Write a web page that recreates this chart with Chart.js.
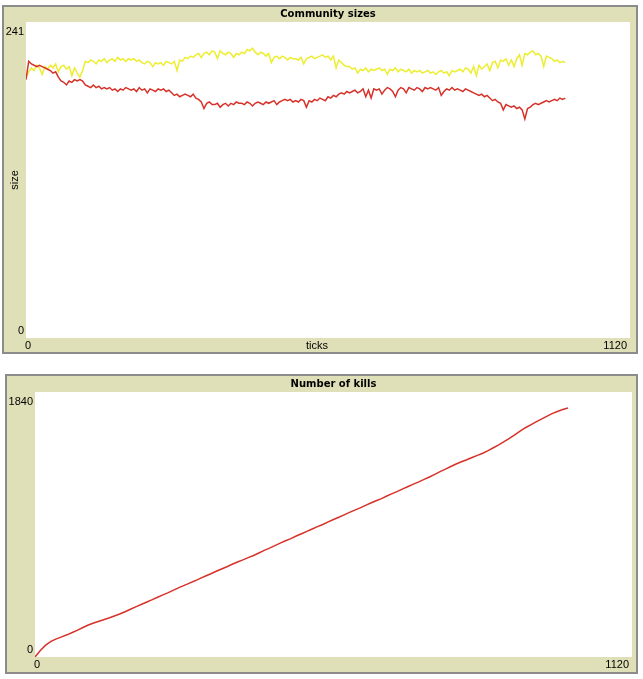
<!DOCTYPE html>
<html>
<head>
<meta charset="utf-8">
<script src="https://cdn.jsdelivr.net/npm/chart.js@4.4.0/dist/chart.umd.min.js"></script>
<style>
  body { margin: 0; background: #ffffff; }
  .plot {
    position: absolute;
    border: 2px solid #8c8c8c;
    background: #e0e0b8;
  }
  .plot canvas { display: block; }
</style>
</head>
<body>
<div class="plot" id="sizesBox" style="left:2px; top:5px;">
  <canvas id="sizesChart" width="632" height="345"></canvas>
</div>
<div class="plot" id="killsBox" style="left:5px; top:374px;">
  <canvas id="killsChart" width="629" height="296"></canvas>
</div>
<script>
// --- 데이터 ---
const sizesTitle = 'Community sizes';
const killsTitle = 'Number of kills';
const tickAxisRange = [0, 1120];
const sizeAxisRange = [0, 241];
const killAxisRange = [0, 1840];

// community sizes, sampled every 5 ticks (0..1000)
const sizeStep = 5;
const redSizes = [
  197, 211, 209, 208, 207, 208, 207, 206, 205, 204,
  202, 203, 199, 196, 195, 193, 196, 195, 197, 196,
  197, 196, 193, 192, 191, 193, 191, 192, 190, 191,
  190, 191, 189, 190, 188, 190, 189, 191, 190, 189,
  190, 188, 191, 189, 190, 187, 190, 189, 188, 190,
  189, 190, 188, 189, 187, 185, 186, 184, 185, 186,
  185, 184, 186, 183, 182, 180, 175, 179, 180, 178,
  178, 179, 176, 178, 179, 177, 179, 178, 180, 179,
  179, 178, 180, 179, 177, 179, 180, 179, 178, 180,
  179, 180, 181, 178, 180, 181, 182, 181, 182, 180,
  181, 180, 182, 181, 176, 181, 180, 182, 181, 183,
  182, 181, 184, 183, 185, 184, 186, 187, 186, 188,
  187, 188, 189, 187, 188, 190, 184, 189, 183, 190,
  189, 190, 186, 189, 191, 190, 188, 184, 189, 191,
  190, 187, 191, 190, 189, 191, 190, 188, 191, 190,
  191, 190, 189, 191, 185, 188, 190, 189, 191, 189,
  190, 189, 188, 190, 189, 188, 187, 186, 185, 186,
  184, 185, 183, 181, 182, 180, 179, 174, 178, 177,
  176, 177, 175, 176, 174, 167, 175, 176, 178, 179,
  178, 179, 180, 181, 180, 181, 182, 181, 183, 182,
  183
];
const yellowSizes = [
  199, 203, 206, 204, 208, 206, 201, 207, 205, 208,
  206, 209, 203, 207, 208, 205, 207, 200, 206, 202,
  199, 204, 211, 210, 212, 211, 209, 212, 211, 213,
  210, 212, 213, 211, 214, 212, 213, 211, 213, 212,
  213, 211, 212, 210, 209, 211, 210, 207, 210, 209,
  210, 208, 211, 210, 209, 211, 204, 212, 211, 214,
  213, 215, 214, 216, 217, 214, 217, 218, 216, 219,
  218, 213, 219, 217, 216, 218, 217, 214, 217, 216,
  218, 217, 220, 219, 221, 218, 216, 218, 217, 215,
  217, 210, 214, 215, 213, 215, 214, 212, 214, 213,
  213, 212, 214, 209, 213, 214, 215, 213, 214, 215,
  216, 214, 215, 212, 215, 206, 212, 210, 208, 207,
  207, 205, 206, 202, 205, 204, 206, 203, 205, 204,
  205, 206, 204, 205, 201, 205, 204, 206, 203, 205,
  204, 203, 205, 202, 204, 203, 204, 202, 203, 204,
  202, 203, 201, 203, 204, 202, 203, 200, 204, 203,
  204, 205, 203, 206, 205, 202, 207, 200, 208, 205,
  207, 209, 204, 210, 211, 206, 212, 211, 213, 208,
  212, 207, 213, 216, 208, 217, 216, 218, 219, 216,
  217, 215, 207, 215, 214, 213, 211, 212, 210, 211,
  210
];

// number of kills, sampled every 10 ticks (0..1000)
const killStep = 10;
const kills = [
  0, 45, 82, 108, 126, 140, 154, 170, 187, 205,
  222, 236, 248, 260, 272, 286, 300, 316, 333, 350,
  366, 382, 398, 415, 431, 447, 464, 482, 497, 513,
  529, 546, 562, 578, 595, 611, 627, 644, 660, 674,
  690, 705, 722, 740, 756, 773, 791, 807, 822, 840,
  856, 872, 889, 905, 920, 938, 955, 970, 987, 1004,
  1020, 1035, 1053, 1069, 1085, 1100, 1118, 1134, 1150, 1167,
  1184, 1200, 1216, 1233, 1250, 1268, 1287, 1305, 1323, 1340,
  1356, 1370, 1385, 1400, 1415, 1433, 1453, 1473, 1495, 1518,
  1543, 1568, 1592, 1612, 1632, 1652, 1671, 1690, 1705, 1718,
  1729
];

const BEIGE = '#e0e0b8';
const RED = 'rgb(215, 50, 41)';
const YELLOW = 'rgb(237, 237, 49)';
const LABEL_FONT = '11px "Liberation Sans", Arial, sans-serif';
const TITLE_FONT = 'bold 10px "DejaVu Sans", sans-serif';

function toPoints(values, step) {
  return values.map((v, i) => ({ x: i * step, y: v }));
}

// NetLogo 스타일 패널: 배경, 제목, 축 끝값 라벨
const netlogoPanel = {
  id: 'netlogoPanel',
  beforeDraw(chart, args, opts) {
    const ctx = chart.ctx;
    const a = chart.chartArea;
    ctx.save();
    ctx.fillStyle = BEIGE;
    ctx.fillRect(0, 0, chart.width, chart.height);
    ctx.fillStyle = '#ffffff';
    ctx.fillRect(a.left, a.top, a.right - a.left, a.bottom - a.top);
    ctx.restore();
  },
  afterDraw(chart, args, opts) {
    const ctx = chart.ctx;
    const a = chart.chartArea;
    const xs = chart.scales.x;
    const ys = chart.scales.y;
    ctx.save();
    ctx.fillStyle = '#000000';

    ctx.font = TITLE_FONT;
    ctx.textAlign = 'center';
    ctx.textBaseline = 'middle';
    ctx.fillText(opts.title, (a.left + a.right) / 2, a.top / 2);

    ctx.font = LABEL_FONT;
    // y axis: max at the top, min at the bottom
    ctx.textAlign = 'right';
    ctx.textBaseline = 'top';
    ctx.fillText(String(opts.yRange[1]), a.left - 2, ys.getPixelForValue(opts.yRange[1]) + 4);
    ctx.textBaseline = 'bottom';
    ctx.fillText(String(opts.yRange[0]), a.left - 2, ys.getPixelForValue(opts.yRange[0]) - 2);

    // x axis
    ctx.textBaseline = 'middle';
    ctx.textAlign = 'left';
    ctx.fillText(String(opts.xRange[0]), xs.getPixelForValue(opts.xRange[0]) - 1, a.bottom + 8);
    ctx.textAlign = 'right';
    ctx.fillText(String(opts.xRange[1]), xs.getPixelForValue(opts.xRange[1]) - 3, a.bottom + 8);

    if (opts.xTitle) {
      ctx.textAlign = 'center';
      ctx.fillText(opts.xTitle, (a.left + a.right) / 2 - 11, a.bottom + 8);
    }
    if (opts.yTitle) {
      ctx.translate(a.left - 11, (a.top + a.bottom) / 2);
      ctx.rotate(-Math.PI / 2);
      ctx.textAlign = 'center';
      ctx.fillText(opts.yTitle, 0, 0);
    }
    ctx.restore();
  }
};

function makeChart(canvasId, datasets, xRange, yRange, padding, panelOpts) {
  return new Chart(document.getElementById(canvasId), {
    type: 'line',
    data: { datasets: datasets },
    options: {
      responsive: false,
      animation: false,
      layout: { padding: padding },
      elements: {
        point: { radius: 0 },
        line: { tension: 0 }
      },
      scales: {
        x: { type: 'linear', min: xRange[0], max: xRange[1], display: false },
        y: { type: 'linear', min: yRange[0], max: yRange[1], display: false }
      },
      plugins: {
        legend: { display: false },
        tooltip: { enabled: false },
        netlogoPanel: Object.assign({ xRange: xRange, yRange: yRange }, panelOpts)
      }
    },
    plugins: [netlogoPanel]
  });
}

makeChart('sizesChart', [
  { data: toPoints(redSizes, sizeStep), borderColor: RED, borderWidth: 1.5, fill: false },
  { data: toPoints(yellowSizes, sizeStep), borderColor: YELLOW, borderWidth: 1.5, fill: false }
], tickAxisRange, sizeAxisRange,
  { left: 22, top: 15, right: 6, bottom: 14 },
  { title: sizesTitle, xTitle: 'ticks', yTitle: 'size' });

makeChart('killsChart', [
  { data: toPoints(kills, killStep), borderColor: RED, borderWidth: 1.5, fill: false }
], tickAxisRange, killAxisRange,
  { left: 28, top: 16, right: 4, bottom: 15 },
  { title: killsTitle });
</script>
</body>
</html>
